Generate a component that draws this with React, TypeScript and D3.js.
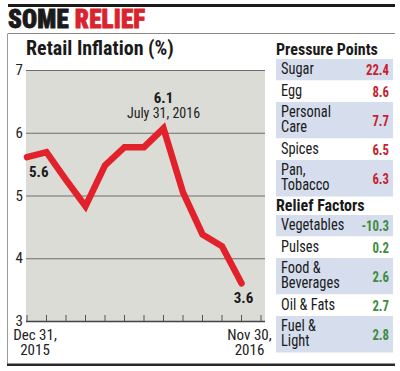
import { useEffect, useRef } from "react";
import * as d3 from "d3";

// Retail inflation, month-end Dec 2015 .. Nov 2016
const months = ["Dec", "Jan", "Feb", "Mar", "Apr", "May", "Jun", "Jul", "Aug", "Sep", "Oct", "Nov"];
const inflation = [5.61, 5.69, 5.25, 4.83, 5.48, 5.77, 5.77, 6.07, 5.05, 4.38, 4.19, 3.6];
const yTicks = [3, 4, 5, 6, 7];

const pressureLabels = [["Sugar"], ["Egg"], ["Personal", "Care"], ["Spices"], ["Pan,", "Tobacco"]];
const pressureValues = [22.4, 8.6, 7.7, 6.5, 6.3];

const reliefLabels = [["Vegetables"], ["Pulses"], ["Food &", "Beverages"], ["Oil & Fats"], ["Fuel &", "Light"]];
const reliefValues = [-10.3, 0.2, 2.6, 2.7, 2.8];

const FONT = "'Roboto Condensed', Roboto, sans-serif";

const App = () => {
  const svgRef = useRef<SVGSVGElement | null>(null);

  useEffect(() => {
    const width = 400;
    const height = 371;
    const svg = d3.select(svgRef.current).attr("width", width).attr("height", height);
    svg.selectAll("*").remove();
    svg.style("font-family", FONT).style("font-stretch", "condensed");

    // frame
    svg.append("rect").attr("x", 8).attr("y", 4).attr("width", 387).attr("height", 3).attr("fill", "#1a1a1a");
    svg.append("line").attr("x1", 8).attr("x2", 395).attr("y1", 33.5).attr("y2", 33.5).attr("stroke", "#8a8a8a");
    svg.append("line").attr("x1", 7.5).attr("x2", 7.5).attr("y1", 33.5).attr("y2", 365).attr("stroke", "#9a9a9a");
    svg.append("rect").attr("x", 7).attr("y", 363.5).attr("width", 388).attr("height", 2.5).attr("fill", "#2a2a2a");

    const title = svg
      .append("text")
      .attr("x", 8)
      .attr("y", 28)
      .attr("font-size", 25)
      .attr("font-weight", 900)
      .attr("letter-spacing", 0.2)
      .attr("stroke-width", 0.8);
    title.append("tspan").attr("fill", "#1a1a1a").attr("stroke", "#1a1a1a").text("SOME ");
    title.append("tspan").attr("fill", "#d9232e").attr("stroke", "#d9232e").text("RELIEF");

    svg
      .append("text")
      .attr("x", 26)
      .attr("y", 55)
      .attr("font-size", 20)
      .attr("font-weight", 700)
      .attr("fill", "#1a1a1a")
      .text("Retail Inflation (%)");

    // scales
    const x = d3.scaleLinear().domain([0, 12]).range([27, 261]);
    const y = d3.scaleLinear().domain([3, 7]).range([321, 70]);

    svg
      .append("rect")
      .attr("x", 26)
      .attr("y", y(7))
      .attr("width", 239)
      .attr("height", y(3) - y(7))
      .attr("fill", "#dcdcd6");

    svg
      .append("g")
      .selectAll("line")
      .data(yTicks)
      .join("line")
      .attr("x1", 26)
      .attr("x2", 265)
      .attr("y1", (d) => y(d) + 0.5)
      .attr("y2", (d) => y(d) + 0.5)
      .attr("stroke", (d) => (d === 3 ? "#444" : "#6e6e6e"))
      .attr("stroke-width", (d) => (d === 3 ? 1.5 : 1));

    svg
      .append("g")
      .selectAll("text")
      .data(yTicks)
      .join("text")
      .attr("x", 23)
      .attr("y", (d) => y(d) + 5)
      .attr("text-anchor", "end")
      .attr("font-size", 15)
      .attr("fill", "#222")
      .text((d) => d);

    // month ticks, pointing up from the baseline
    svg
      .append("g")
      .selectAll("line")
      .data(d3.range(13))
      .join("line")
      .attr("x1", (d) => x(d))
      .attr("x2", (d) => x(d))
      .attr("y1", y(3))
      .attr("y2", y(3) - 6)
      .attr("stroke", "#555")
      .attr("stroke-width", 1);

    const xLabels = [
      { i: 0, lines: ["Dec 31,", "2015"] },
      { i: months.length - 1, lines: ["Nov 30,", "2016"] },
    ];
    xLabels.forEach((l) => {
      const t = svg
        .append("text")
        .attr("x", x(l.i) + 8)
        .attr("y", 340)
        .attr("text-anchor", "middle")
        .attr("font-size", 15)
        .attr("fill", "#222");
      l.lines.forEach((s, k) => {
        t.append("tspan").attr("x", x(l.i) + 8).attr("dy", k === 0 ? 0 : 15).text(s);
      });
    });

    // line
    const line = d3
      .line<number>()
      .x((_, i) => x(i))
      .y((d) => y(d));

    svg
      .append("path")
      .datum(inflation)
      .attr("d", line)
      .attr("fill", "none")
      .attr("stroke", "#e2222b")
      .attr("stroke-width", 6.5)
      .attr("stroke-linejoin", "miter")
      .attr("stroke-linecap", "round");

    // annotations
    const peak = d3.maxIndex(inflation);
    const last = inflation.length - 1;
    svg
      .append("text")
      .attr("x", x(0) + 2)
      .attr("y", y(inflation[0]) + 20)
      .attr("font-size", 15)
      .attr("font-weight", 700)
      .attr("fill", "#1a1a1a")
      .text(inflation[0].toFixed(1));
    svg
      .append("text")
      .attr("x", x(peak))
      .attr("y", y(inflation[peak]) - 25)
      .attr("text-anchor", "middle")
      .attr("font-size", 15)
      .attr("font-weight", 700)
      .attr("fill", "#1a1a1a")
      .text(inflation[peak].toFixed(1));
    svg
      .append("text")
      .attr("x", x(peak))
      .attr("y", y(inflation[peak]) - 10)
      .attr("text-anchor", "middle")
      .attr("font-size", 14)
      .attr("fill", "#222")
      .text("July 31, 2016");
    svg
      .append("text")
      .attr("x", x(last) + 2)
      .attr("y", y(inflation[last]) + 20)
      .attr("text-anchor", "middle")
      .attr("font-size", 15)
      .attr("font-weight", 700)
      .attr("fill", "#1a1a1a")
      .text(inflation[last].toFixed(1));

    // side tables
    const rowH = 21.5;
    const extraLine = 15;
    const drawTable = (
      heading: string,
      headY: number,
      top: number,
      labels: string[][],
      values: number[],
      valueColor: string
    ) => {
      svg
        .append("text")
        .attr("x", 276)
        .attr("y", headY)
        .attr("font-size", 16)
        .attr("font-weight", 700)
        .attr("fill", "#1a1a1a")
        .text(heading);

      const heights = labels.map((l) => rowH + (l.length - 1) * extraLine);
      const tops = [top, ...Array.from(d3.cumsum(heights)).map((c) => top + c)];

      labels.forEach((l, i) => {
        const g = svg.append("g").attr("transform", `translate(0,${tops[i]})`);
        g.append("rect")
          .attr("x", 276)
          .attr("y", 0)
          .attr("width", 117)
          .attr("height", heights[i])
          .attr("fill", i % 2 === 0 ? "#d6deee" : "#ffffff");
        const t = g
          .append("text")
          .attr("transform", "translate(281,0) scale(0.9,1)")
          .attr("font-size", 16)
          .attr("fill", "#1a1a1a");
        l.forEach((s, k) => {
          t.append("tspan").attr("x", 0).attr("y", 15.5 + k * extraLine).text(s);
        });
        g.append("text")
          .attr("transform", `translate(389,${heights[i] / 2 + 5.5}) scale(0.85,1)`)
          .attr("text-anchor", "end")
          .attr("font-size", 15)
          .attr("font-weight", 700)
          .attr("fill", valueColor)
          .text(values[i].toFixed(1));
      });
    };

    drawTable("Pressure Points", 55, 59, pressureLabels, pressureValues, "#c61f30");
    drawTable("Relief Factors", 211, 215, reliefLabels, reliefValues, "#3e8b41");
  }, []);

  return (
    <div style={{ position: "absolute", left: 0, top: 0 }}>
      <svg ref={svgRef} style={{ display: "block" }} />
    </div>
  );
};

export default App;
